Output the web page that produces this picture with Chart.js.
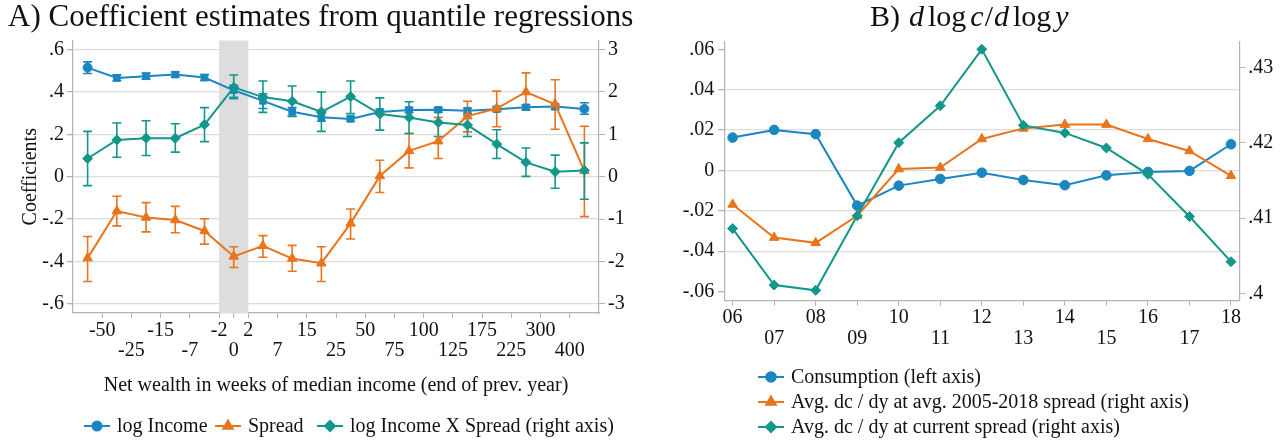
<!DOCTYPE html>
<html>
<head>
<meta charset="utf-8">
<title>Quantile regressions and dlogc/dlogy</title>
<script src="https://cdn.jsdelivr.net/npm/chart.js@4.4.1/dist/chart.umd.min.js"></script>
<style>
  html, body { margin: 0; padding: 0; background: #fff; }
  #wrap { position: relative; width: 1286px; height: 443px; overflow: hidden; }
  .panel { position: absolute; top: 0; height: 443px; }
  #panelA { left: 0; width: 640px; }
  #panelB { left: 640px; width: 646px; }
</style>
</head>
<body>
<div id="wrap">
  <div class="panel" id="panelA"><canvas id="chartA"></canvas></div>
  <div class="panel" id="panelB"><canvas id="chartB"></canvas></div>
</div>
<script>
// ---- Panel A data: quantile regression coefficients by net-wealth bin ----
const wealthBins = [1, 2, 3, 4, 5, 6, 7, 8, 9, 10, 11, 12, 13, 14, 15, 16, 17, 18];
const wealthTicks = ["-50", "-25", "-15", "-7", "-2", "0", "2", "7", "15", "25", "50", "75", "100", "125", "175", "225", "300", "400"];

const incomeCoef = [0.515, 0.466, 0.474, 0.482, 0.468, 0.408, 0.358, 0.307, 0.281, 0.273, 0.306, 0.315, 0.316, 0.312, 0.319, 0.328, 0.331, 0.320];
const incomeLo   = [0.487, 0.453, 0.460, 0.470, 0.455, 0.375, 0.322, 0.286, 0.262, 0.262, 0.295, 0.303, 0.305, 0.300, 0.308, 0.316, 0.318, 0.295];
const incomeHi   = [0.542, 0.481, 0.489, 0.494, 0.482, 0.432, 0.392, 0.326, 0.300, 0.285, 0.318, 0.327, 0.327, 0.323, 0.330, 0.340, 0.342, 0.349];

const spreadCoef = [-1.92, -0.81, -0.96, -1.02, -1.28, -1.88, -1.63, -1.93, -2.04, -1.10, 0.02, 0.61, 0.84, 1.43, 1.61, 2.00, 1.71, 0.14];
const spreadLo   = [-2.47, -1.16, -1.30, -1.32, -1.59, -2.14, -1.90, -2.23, -2.47, -1.47, -0.37, 0.21, 0.43, 1.06, 1.18, 1.57, 1.12, -0.94];
const spreadHi   = [-1.41, -0.46, -0.61, -0.70, -0.99, -1.65, -1.39, -1.62, -1.65, -0.76, 0.39, 1.02, 1.40, 1.78, 2.02, 2.45, 2.29, 1.19];

const interCoef = [0.43, 0.87, 0.91, 0.91, 1.23, 2.11, 1.88, 1.78, 1.53, 1.89, 1.48, 1.40, 1.28, 1.22, 0.77, 0.34, 0.12, 0.15];
const interLo   = [-0.21, 0.46, 0.50, 0.58, 0.83, 1.84, 1.52, 1.42, 1.07, 1.49, 1.10, 1.02, 0.95, 0.95, 0.43, 0.01, -0.27, -0.53];
const interHi   = [1.07, 1.27, 1.32, 1.25, 1.63, 2.40, 2.26, 2.14, 2.00, 2.26, 1.86, 1.77, 1.60, 1.45, 1.11, 0.68, 0.51, 0.80];

const leftTicksA = [-0.6, -0.4, -0.2, 0, 0.2, 0.4, 0.6];
const leftLabelsA = ["-.6", "-.4", "-.2", "0", ".2", ".4", ".6"];
const rightTicksA = [-3, -2, -1, 0, 1, 2, 3];
const rightLabelsA = ["-3", "-2", "-1", "0", "1", "2", "3"];

// ---- Panel B data: d log c / d log y by year ----
const years = ["06", "07", "08", "09", "10", "11", "12", "13", "14", "15", "16", "17", "18"];
const consumption   = [0.0163, 0.0201, 0.0180, -0.0174, -0.0075, -0.0042, -0.0011, -0.0047, -0.0073, -0.0024, -0.0007, -0.0002, 0.0130];
const dcdyAvgSpread = [0.4118, 0.4074, 0.4067, 0.4103, 0.4165, 0.4167, 0.4205, 0.4219, 0.4224, 0.4224, 0.4205, 0.4189, 0.4156];
const dcdyCurSpread = [0.4086, 0.4011, 0.4004, 0.4103, 0.4200, 0.4249, 0.4324, 0.4223, 0.4213, 0.4193, 0.4158, 0.4102, 0.4042];

const leftTicksB = [-0.06, -0.04, -0.02, 0, 0.02, 0.04, 0.06];
const leftLabelsB = ["-.06", "-.04", "-.02", "0", ".02", ".04", ".06"];
const rightTicksB = [0.40, 0.41, 0.42, 0.43];
const rightLabelsB = [".4", ".41", ".42", ".43"];

// ---- styling ----
const SERIF = "'Liberation Serif', 'Times New Roman', serif";
const BLUE = "#1a86c2";
const ORANGE = "#e8741c";
const TEAL = "#13978a";
const AXIS = "#b3b3b3";
const GRID = "#dcdcdc";
const TEXT = "#111111";

const tickFont = { family: SERIF, size: 20, lineHeight: 1 };

function fixedTicks(values) {
    return scale => { scale.ticks = values.map(v => ({ value: v })); };
}

// position of each wealth label: bin boundaries, except "0" which sits mid-bin
function wealthTickPos(i) {
    if (i < 5) return wealthBins[i] + 0.5;
    if (i === 5) return wealthBins[5];
    return wealthBins[i - 1] + 0.5;
}

// shaded band + error bars, drawn under the markers
const errorBars = {
    id: "errorBars",
    beforeDatasetsDraw(chart) {
        const ctx = chart.ctx;
        const area = chart.chartArea;
        const band = chart.config.options.band;
        if (band) {
            const xs = chart.scales.x;
            ctx.save();
            ctx.fillStyle = "#dddddd";
            const x0 = xs.getPixelForValue(band.from);
            const x1 = xs.getPixelForValue(band.to);
            ctx.fillRect(x0, area.top, x1 - x0, area.bottom - area.top);
            ctx.restore();
        }
        chart.data.datasets.forEach(ds => {
            if (!ds.errLo) return;
            const xs = chart.scales.x;
            const ys = chart.scales[ds.yAxisID];
            ctx.save();
            ctx.strokeStyle = ds.borderColor;
            ctx.lineWidth = 1.6;
            ds.data.forEach((pt, i) => {
                const x = xs.getPixelForValue(pt.x);
                const y0 = ys.getPixelForValue(ds.errLo[i]);
                const y1 = ys.getPixelForValue(ds.errHi[i]);
                ctx.beginPath();
                ctx.moveTo(x, y0); ctx.lineTo(x, y1);
                ctx.moveTo(x - 4.5, y0); ctx.lineTo(x + 4.5, y0);
                ctx.moveTo(x - 4.5, y1); ctx.lineTo(x + 4.5, y1);
                ctx.stroke();
            });
            ctx.restore();
        });
    }
};

function drawLegendEntry(ctx, x, y, ds, text) {
    ctx.save();
    ctx.strokeStyle = ds.borderColor;
    ctx.fillStyle = ds.borderColor;
    ctx.lineWidth = 2;
    ctx.beginPath();
    ctx.moveTo(x, y); ctx.lineTo(x + 26, y);
    ctx.stroke();
    Chart.helpers.drawPoint(ctx, { pointStyle: ds.legendStyle, radius: ds.legendRadius, borderWidth: 1, rotation: 0 }, x + 13, y);
    ctx.fillStyle = TEXT;
    ctx.font = "20px " + SERIF;
    ctx.textBaseline = "middle";
    ctx.textAlign = "left";
    ctx.fillText(text, x + 33, y + 1);
    ctx.restore();
}

function seriesDataset(label, xs, ys, axis, color, style, radius, extra) {
    return Object.assign({
        label: label,
        data: ys.map((v, i) => ({ x: xs[i], y: v })),
        yAxisID: axis,
        borderColor: color,
        backgroundColor: color,
        borderWidth: 2,
        pointStyle: style,
        pointRadius: radius,
        pointBorderWidth: 1,
        pointHoverRadius: radius,
        legendStyle: typeof style === "string" ? style : "circle",
        legendRadius: typeof radius === "number" ? radius : 4.5,
        tension: 0
    }, extra || {});
}

// ---------------- Panel A ----------------
const textA = {
    id: "textA",
    afterDraw(chart) {
        const ctx = chart.ctx;
        const area = chart.chartArea;
        ctx.save();
        ctx.fillStyle = TEXT;
        ctx.font = "31px " + SERIF;
        ctx.textBaseline = "alphabetic";
        ctx.textAlign = "left";
        ctx.fillText("A) Coefficient estimates from quantile regressions", 8, 26);
        ctx.font = "20px " + SERIF;
        ctx.textAlign = "center";
        ctx.textBaseline = "middle";
        ctx.fillText("Net wealth in weeks of median income (end of prev. year)", (area.left + area.right) / 2, 386);
        ctx.restore();
        const ds = chart.data.datasets;
        drawLegendEntry(ctx, 84, 426, ds[0], ds[0].label);
        drawLegendEntry(ctx, 215, 426, ds[1], ds[1].label);
        drawLegendEntry(ctx, 317, 426, ds[2], ds[2].label + " (right axis)");
    }
};

const xA = wealthBins;
new Chart(document.getElementById("chartA"), {
    type: "line",
    data: {
        datasets: [
            seriesDataset("log Income", xA, incomeCoef, "y", BLUE,
                ctx => (ctx.dataIndex === 0 || ctx.dataIndex === 17) ? "circle" : "rect",
                ctx => (ctx.dataIndex === 0 || ctx.dataIndex === 17) ? 4.5 : 4.6,
                { errLo: incomeLo, errHi: incomeHi, order: 2, legendStyle: "circle", legendRadius: 4.5 }),
            seriesDataset("Spread", xA, spreadCoef, "y2", ORANGE, "triangle", 5.5,
                { errLo: spreadLo, errHi: spreadHi, order: 1 }),
            seriesDataset("log Income X Spread", xA, interCoef, "y2", TEAL, "rectRot", 5,
                { errLo: interLo, errHi: interHi, order: 0 })
        ]
    },
    options: {
        responsive: true,
        maintainAspectRatio: false,
        animation: false,
        events: [],
        band: { from: 5.5, to: 6.5 },
        layout: { padding: { top: 40.5, left: 0, right: 0, bottom: 0 } },
        plugins: { legend: { display: false }, title: { display: false }, tooltip: { enabled: false } },
        scales: {
            x: {
                type: "linear", min: 0.5, max: 18.5,
                afterBuildTicks: fixedTicks(wealthTicks.map((t, i) => wealthTickPos(i))),
                afterFit: s => { s.height = 130; },
                grid: { drawOnChartArea: false, tickLength: 5, tickColor: AXIS },
                border: { color: AXIS, width: 1.2 },
                ticks: {
                    autoSkip: false, maxRotation: 0, minRotation: 0, padding: 3,
                    color: TEXT, font: tickFont,
                    callback: (v, i) => i % 2 ? ["", wealthTicks[i]] : wealthTicks[i]
                }
            },
            y: {
                position: "left", min: -0.643, max: 0.643,
                afterBuildTicks: fixedTicks(leftTicksA),
                afterFit: s => { s.width = 73; },
                grid: { color: GRID, lineWidth: 1.3, tickColor: AXIS, tickLength: 6 },
                border: { color: AXIS, width: 1.2 },
                ticks: { padding: 3, color: TEXT, font: tickFont, callback: (v, i) => leftLabelsA[i] },
                title: { display: true, text: "Coefficients", color: TEXT, font: { family: SERIF, size: 20, lineHeight: 1.2 }, padding: { top: 19, bottom: 0 } }
            },
            y2: {
                position: "right", min: -3.215, max: 3.215,
                afterBuildTicks: fixedTicks(rightTicksA),
                afterFit: s => { s.width = 41; },
                grid: { drawOnChartArea: false, tickColor: AXIS, tickLength: 6 },
                border: { color: AXIS, width: 1.2 },
                ticks: { padding: 3, color: TEXT, font: tickFont, callback: (v, i) => rightLabelsA[i] }
            }
        }
    },
    plugins: [errorBars, textA]
});

// ---------------- Panel B ----------------
const textB = {
    id: "textB",
    afterDraw(chart) {
        const ctx = chart.ctx;
        ctx.save();
        ctx.fillStyle = TEXT;
        ctx.textBaseline = "alphabetic";
        ctx.textAlign = "left";
        const roman = "30px " + SERIF;
        const italic = "italic 30px " + SERIF;
        const parts = [["B)", roman, 9], ["d", italic, 4], ["log", roman, 4], ["c", italic, 1], ["/", roman, 1], ["d", italic, 4], ["log", roman, 4], ["y", italic, 0]];
        let x = 230;
        parts.forEach(p => {
            ctx.font = p[1];
            ctx.fillText(p[0], x, 26);
            x += ctx.measureText(p[0]).width + p[2];
        });
        ctx.restore();
        const ds = chart.data.datasets;
        drawLegendEntry(ctx, 118, 377, ds[0], ds[0].label);
        drawLegendEntry(ctx, 118, 402, ds[1], ds[1].label);
        drawLegendEntry(ctx, 118, 427, ds[2], ds[2].label);
    }
};

const xB = years.map((y, i) => 6 + i);
new Chart(document.getElementById("chartB"), {
    type: "line",
    data: {
        datasets: [
            seriesDataset("Consumption (left axis)", xB, consumption, "y", BLUE, "circle", 4.8, { order: 2 }),
            seriesDataset("Avg. dc / dy at avg. 2005-2018 spread (right axis)", xB, dcdyAvgSpread, "y2", ORANGE, "triangle", 5.5, { order: 1 }),
            seriesDataset("Avg. dc / dy at current spread (right axis)", xB, dcdyCurSpread, "y2", TEAL, "rectRot", 5, { order: 0 })
        ]
    },
    options: {
        responsive: true,
        maintainAspectRatio: false,
        animation: false,
        events: [],
        layout: { padding: { top: 41.7, left: 0, right: 0, bottom: 0 } },
        plugins: { legend: { display: false }, title: { display: false }, tooltip: { enabled: false } },
        scales: {
            x: {
                type: "linear", min: 5.8, max: 18.2,
                afterBuildTicks: fixedTicks(xB),
                afterFit: s => { s.height = 142.3; },
                grid: { drawOnChartArea: false, tickLength: 5, tickColor: AXIS },
                border: { color: AXIS, width: 1.2 },
                ticks: {
                    autoSkip: false, maxRotation: 0, minRotation: 0, padding: 1,
                    color: TEXT, font: { family: SERIF, size: 20, lineHeight: 1.08 },
                    callback: (v, i) => i % 2 ? ["", years[i]] : years[i]
                }
            },
            y: {
                position: "left", min: -0.0645, max: 0.0638,
                afterBuildTicks: fixedTicks(leftTicksB),
                afterFit: s => { s.width = 84.3; },
                grid: {
                    color: c => (c.tick && Math.abs(c.tick.value) > 0.05) ? "rgba(0,0,0,0)" : GRID,
                    lineWidth: 1.3, tickColor: AXIS, tickLength: 6
                },
                border: { color: AXIS, width: 1.2 },
                ticks: { padding: 4, color: TEXT, font: tickFont, callback: (v, i) => leftLabelsB[i] }
            },
            y2: {
                position: "right", min: 0.39902, max: 0.43341,
                afterBuildTicks: fixedTicks(rightTicksB),
                afterFit: s => { s.width = 46.7; },
                grid: { drawOnChartArea: false, tickColor: AXIS, tickLength: 6 },
                border: { color: AXIS, width: 1.2 },
                ticks: { padding: 3, color: TEXT, font: tickFont, callback: (v, i) => rightLabelsB[i] }
            }
        }
    },
    plugins: [textB]
});
</script>
</body>
</html>
